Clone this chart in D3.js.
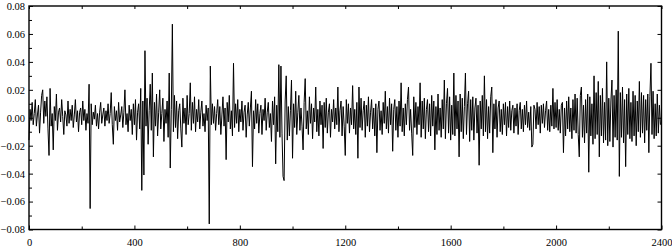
<!DOCTYPE html>
<html>
<head>
<meta charset="utf-8">
<script src="https://cdn.jsdelivr.net/npm/d3@7"></script>
<style>
  html, body { margin: 0; padding: 0; background: #fff; }
  svg { display: block; }
  text { font-family: "Liberation Serif", "Times New Roman", serif; font-size: 10.5px; fill: #000; }
</style>
</head>
<body>
<svg id="chart" width="672" height="252"></svg>
<script>
const step = 4;
const returns = [
-.016,.006,-.002,.011,-.005,.003,.013,-.006,.002,.009,-.011,.004,.016,.020,-.004,.012,.001,.015,-.008,-.027,
.021,-.006,.003,-.023,.008,-.002,.017,-.009,.004,.007,-.003,.013,.001,-.012,.005,.002,-.006,.012,-.004,.006,
-.002,.009,-.007,.002,.013,-.003,.005,-.010,.004,.007,-.005,.012,-.002,.006,-.009,.003,-.004,.024,-.065,.010,
-.005,.004,-.001,.009,-.006,.003,-.008,.004,.011,-.004,.002,.007,-.006,.005,-.002,.010,-.004,.003,.018,-.005,
-.019,.008,-.002,.005,-.009,.011,-.003,.002,.008,-.007,.004,.020,-.005,.003,-.010,.009,-.002,.006,-.012,.010,
-.005,.013,-.016,.004,.010,-.008,.021,-.052,.012,-.041,.048,-.006,.014,-.019,.005,.024,-.009,.032,-.028,.011,
-.006,.017,-.013,.004,.020,-.008,.003,.014,-.017,.006,-.004,.012,-.014,.032,-.036,.006,.067,-.010,.016,-.007,
.012,-.015,.005,.010,-.008,-.021,.014,-.004,.007,-.012,.016,-.005,.003,.025,-.009,.011,-.004,.015,-.010,.006,
-.003,.013,-.008,.004,.012,-.006,.003,-.010,.009,-.002,.007,-.076,.037,-.005,.010,-.004,.008,-.009,.003,.013,
-.005,.008,-.012,.002,.015,-.006,.007,-.030,.011,-.003,.016,-.008,.005,-.013,.039,-.007,.010,-.004,.013,-.010,
.006,-.003,.012,-.009,.004,.009,-.014,.002,.011,-.006,.007,.019,-.035,.005,-.008,.013,-.004,.010,-.011,.003,
.009,-.012,.006,-.002,.014,-.009,.004,.011,-.007,.003,-.017,.012,-.005,.015,-.033,.009,-.010,.038,-.014,.037,
-.011,-.042,-.045,.012,.030,-.016,.008,-.013,.005,.027,-.029,.010,-.007,.019,-.012,.004,.016,-.009,.007,-.006,
-.023,.011,.028,-.008,.005,-.012,.015,-.004,.010,-.015,.007,-.003,.022,-.010,.006,-.013,.012,-.005,.009,-.022,
.011,-.007,.014,-.011,.004,.010,-.014,.006,-.003,.013,-.008,.007,-.005,.022,-.010,.005,.012,-.013,.008,-.006,
-.027,.013,-.004,.010,-.011,.007,-.005,.023,-.008,.006,-.012,.011,-.029,.022,-.007,.014,-.009,.005,.012,-.014,
.009,-.006,.015,-.010,.004,.013,-.008,.007,-.013,.010,-.025,.006,.012,-.009,.005,-.012,.011,-.004,.019,-.008,
.008,-.011,.014,-.005,.010,-.024,.006,.013,-.009,.008,-.014,.012,-.006,.025,-.010,.007,-.013,.010,-.005,.013,
.022,-.009,.006,-.011,-.027,.015,-.007,.011,-.012,.008,-.005,.025,-.014,.012,-.008,.014,-.015,.006,.013,-.010,
.010,-.013,.016,-.006,.012,-.023,.008,-.012,.017,-.009,.007,-.014,.013,-.008,.027,-.015,.010,.021,-.011,.015,
-.016,.009,-.012,.032,-.013,.016,-.008,.012,-.028,.017,-.010,.014,-.015,.008,.032,-.012,.010,.019,-.017,.013,
-.009,.015,-.016,.007,.014,-.011,.009,-.034,.012,-.008,.016,-.013,.030,-.010,.013,-.015,.008,-.011,.015,.022,
-.025,.010,-.008,.013,-.014,.007,.012,-.010,.006,-.012,.010,-.005,.011,-.013,.008,-.007,.012,-.009,.005,.009,
-.011,.007,-.006,.010,-.012,.005,.011,-.008,.006,-.010,.009,-.005,.012,-.007,.004,-.009,.008,-.021,-.019,.009,
.006,-.008,.011,-.005,.008,-.011,.009,-.004,.010,-.007,.005,.012,-.009,.006,-.010,.009,-.006,.021,-.008,.011,
-.007,.013,-.009,.006,-.011,.009,.011,-.025,.007,-.013,.012,-.008,.015,-.010,.007,-.015,.013,-.009,.017,-.011,
.014,-.012,-.028,.016,.022,-.014,.009,-.018,.013,-.011,.017,-.039,.015,-.013,.010,-.019,.030,-.015,.018,-.012,
.026,-.028,.016,-.013,.021,-.018,.011,-.016,.040,-.020,.014,-.017,.012,.027,-.021,.016,-.014,.020,-.016,.062,
-.042,.018,-.014,.022,-.018,.013,-.035,.017,-.012,.021,-.015,.011,-.017,.019,-.013,.016,-.020,.012,-.010,.026,
-.014,.018,-.011,.016,-.018,.013,-.009,.017,-.025,.015,.039,-.012,.019,-.015,.010,-.013,.017,-.011,.009,-.005
];
const xTicks = [0, 400, 800, 1200, 1600, 2000, 2400];
const xMinorTicks = [200, 600, 1000, 1400, 1800, 2200];
const yTicks = [-0.08, -0.06, -0.04, -0.02, 0.00, 0.02, 0.04, 0.06, 0.08];
const yMinorTicks = [-0.07, -0.05, -0.03, -0.01, 0.01, 0.03, 0.05, 0.07];

const svg = d3.select("#chart");
const x = d3.scaleLinear().domain([0, 2400]).range([29, 661.5]);
const y = d3.scaleLinear().domain([-0.08, 0.08]).range([229.5, 6]);

// series
const line = d3.line().x((d, i) => x(i * step)).y(d => y(d));
svg.append("path").datum(returns)
  .attr("d", line)
  .attr("fill", "none")
  .attr("stroke", "#000")
  .attr("stroke-width", 1)
  .attr("stroke-linejoin", "miter");

// axes (ticks inside the frame)
const fmt = d3.format(".2f");
const gL = svg.append("g").attr("transform", `translate(${x(0)},0)`)
  .call(d3.axisLeft(y).tickValues(yTicks).tickSize(-4).tickPadding(7).tickFormat(fmt));
const gLm = svg.append("g").attr("transform", `translate(${x(0)},0)`)
  .call(d3.axisLeft(y).tickValues(yMinorTicks).tickSize(-3).tickFormat(""));
const gR = svg.append("g").attr("transform", `translate(${x(2400)},0)`)
  .call(d3.axisRight(y).tickValues(yTicks).tickSize(-4).tickFormat(""));
const gB = svg.append("g").attr("transform", `translate(0,${y(-0.08)})`)
  .call(d3.axisBottom(x).tickValues(xTicks).tickSize(-4).tickPadding(9).tickFormat(d3.format("d")));
const gBm = svg.append("g").attr("transform", `translate(0,${y(-0.08)})`)
  .call(d3.axisBottom(x).tickValues(xMinorTicks).tickSize(-3).tickFormat(""));
const gT = svg.append("g").attr("transform", `translate(0,${y(0.08)})`)
  .call(d3.axisTop(x).tickValues(xTicks.concat(xMinorTicks)).tickSize(-3).tickFormat(""));

[gL, gLm, gR, gB, gBm, gT].forEach(g => {
  g.select(".domain").remove();
  g.selectAll("line").attr("stroke", "#000").attr("stroke-width", 1);
  g.selectAll("text").attr("font-family", null).attr("font-size", null).style("fill", "#000");
});
gL.selectAll("text").attr("dx", 3);

// frame
svg.append("rect")
  .attr("x", x(0)).attr("y", y(0.08))
  .attr("width", x(2400) - x(0)).attr("height", y(-0.08) - y(0.08))
  .attr("fill", "none").attr("stroke", "#000").attr("stroke-width", 1.4);
</script>
</body>
</html>
